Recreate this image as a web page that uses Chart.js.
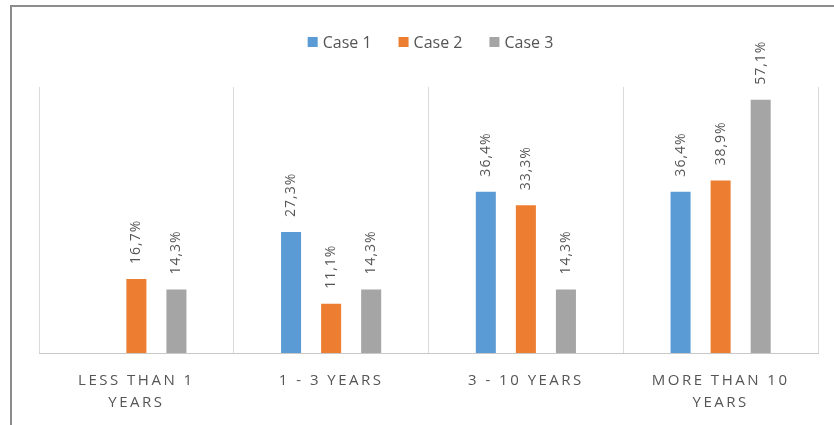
<!DOCTYPE html>
<html>
<head>
<meta charset="utf-8">
<script src="https://cdn.jsdelivr.net/npm/chart.js@4/dist/chart.umd.min.js"></script>
<style>
  html, body { margin: 0; padding: 0; background: #ffffff; }
  #wrap { position: relative; width: 834px; height: 425px; overflow: hidden; }
  #frame {
    position: absolute; left: 10px; top: 5px; right: -4px; bottom: -4px;
    border-left: 2px solid #8c8c8c; border-top: 2px solid #8c8c8c;
    pointer-events: none;
  }
  canvas { position: absolute; left: 0; top: 0; }
</style>
</head>
<body>
<div id="wrap">
  <canvas id="chart" width="834" height="425"></canvas>
  <div id="frame"></div>
</div>
<script>
// Experience categories (multi-line tick labels)
const categories = [
  ['LESS THAN 1', 'YEARS'],
  ['1 - 3 YEARS'],
  ['3 - 10 YEARS'],
  ['MORE THAN 10', 'YEARS']
];

// Share of respondents per case, in percent
const case1Values = [null, 27.3, 36.4, 36.4];
const case2Values = [16.7, 11.1, 33.3, 38.9];
const case3Values = [14.3, 14.3, 14.3, 57.1];

const seriesNames = ['Case 1', 'Case 2', 'Case 3'];
const seriesColors = ['#5b9bd5', '#ed7d31', '#a5a5a5'];

const textColor = '#555555';
const fontFamily = "'Open Sans', 'DejaVu Sans', sans-serif";

// Values written above each bar, rotated to read bottom-to-top
const barValueLabels = {
  id: 'barValueLabels',
  afterDatasetsDraw(chart) {
    const ctx = chart.ctx;
    chart.data.datasets.forEach((ds, di) => {
      const meta = chart.getDatasetMeta(di);
      meta.data.forEach((bar, i) => {
        const v = ds.data[i];
        if (v === null || v === undefined) return;
        const text = v.toFixed(1).replace('.', ',') + '%';
        ctx.save();
        ctx.letterSpacing = '1px';
        ctx.translate(bar.x, bar.y - 15);
        ctx.rotate(-Math.PI / 2);
        ctx.font = '14px ' + fontFamily;
        ctx.fillStyle = textColor;
        ctx.textAlign = 'left';
        ctx.textBaseline = 'middle';
        ctx.fillText(text, 0, 0);
        ctx.restore();
      });
    });
  }
};

// Legend row centred above the plot
const topLegend = {
  id: 'topLegend',
  afterDraw(chart) {
    const ctx = chart.ctx;
    ctx.save();
    ctx.font = '16px ' + fontFamily;
    ctx.textBaseline = 'middle';
    ctx.letterSpacing = '0px';
    const box = 10, gapBox = 5, gapItem = 27;
    const widths = seriesNames.map(n => box + gapBox + ctx.measureText(n).width);
    const total = widths.reduce((a, b) => a + b, 0) + gapItem * (seriesNames.length - 1);
    let x = (chart.chartArea.left + chart.chartArea.right) / 2 - total / 2 + 2;
    const y = 42;
    seriesNames.forEach((n, i) => {
      ctx.fillStyle = seriesColors[i];
      ctx.fillRect(x, y - box / 2, box, box);
      ctx.fillStyle = textColor;
      ctx.textAlign = 'left';
      ctx.fillText(n, x + box + gapBox, y + 1);
      x += widths[i] + gapItem;
    });
    ctx.restore();
  }
};

// Letter spacing for axis tick text
const spacedTicks = {
  id: 'spacedTicks',
  beforeDraw(chart) { chart.ctx.letterSpacing = '2.5px'; },
  afterDraw(chart) { chart.ctx.letterSpacing = '0px'; }
};

new Chart(document.getElementById('chart'), {
  type: 'bar',
  data: {
    labels: categories,
    datasets: [
      { label: seriesNames[0], data: case1Values, backgroundColor: seriesColors[0] },
      { label: seriesNames[1], data: case2Values, backgroundColor: seriesColors[1] },
      { label: seriesNames[2], data: case3Values, backgroundColor: seriesColors[2] }
    ]
  },
  options: {
    responsive: false,
    animation: false,
    layout: { padding: { left: 39, right: 16, top: 87, bottom: 0 } },
    datasets: { bar: { categoryPercentage: 0.617, barPercentage: 0.5 } },
    plugins: { legend: { display: false }, tooltip: { enabled: false } },
    scales: {
      y: { display: false, min: 0, max: 60 },
      x: {
        offset: true,
        grid: { offset: true, color: '#d9d9d9', lineWidth: 1, drawTicks: false },
        border: { color: '#c8c8c8', width: 1 },
        ticks: {
          color: textColor,
          font: { family: fontFamily, size: 15, lineHeight: 1.5 },
          padding: 16,
          maxRotation: 0,
          autoSkip: false
        },
        afterFit(scale) { scale.height = 72; }
      }
    }
  },
  plugins: [spacedTicks, barValueLabels, topLegend]
});
</script>
</body>
</html>
